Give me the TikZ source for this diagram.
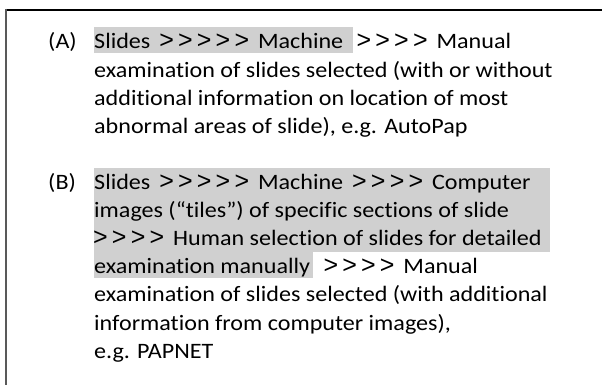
\documentclass[tikz,border=0pt]{standalone}
\usepackage{fontspec}
\usetikzlibrary{calc,backgrounds}
\setmainfont[Ligatures={TeXOff,CommonOff},FakeStretch=1.095]{Carlito}
\newfontfamily\chevfont{Liberation Sans}
% one wide chevron, and runs of four and five of them
\newcommand\chevv{{\chevfont\fontsize{25}{25}\selectfont >}}
\newcommand\ck{\kern4.2pt}
\newcommand\cfourbare{\chevv\ck\chevv\ck\chevv\ck\chevv\kern3.5pt}
\newcommand\cfour{\kern3.5pt\cfourbare}
\newcommand\cfive{\kern3.5pt\chevv\ck\chevv\ck\chevv\ck\chevv\ck\chevv\kern3.5pt}
\begin{document}
\begin{tikzpicture}[x=1pt,y=-1pt,
  txt/.style={anchor=base west,inner sep=0pt,font=\fontsize{22}{26}\selectfont},
  hl/.style={fill=hlgray,draw=none}]
\definecolor{hlgray}{RGB}{208,208,208}
\useasboundingbox (0,0) rectangle (602,385);
% frame: top and left rules only
\draw[line width=2pt,black] (602,10) -- (5.5,10);
\draw[line width=2pt,black!65] (5.5,9) -- (5.5,385);
% item A
\node[txt] (la) at (48,49) {(A)};
\node[txt] (a1h) at (94,49) {Slides \cfive{} Machine};
\node[txt,xshift=13pt] (a1r) at (a1h.base east) {\cfourbare{} Manual};
\node[txt] (a2) at (94,77.1) {examination of slides selected (with or without};
\node[txt] (a3) at (94,105.2) {additional information on location of most};
\node[txt] (a4) at (94,133.3) {abnormal areas of slide), e.g. AutoPap};
% item B
\node[txt] (lb) at (48,189.5) {(B)};
\node[txt] (b1) at (94,189.5) {Slides \cfive{} Machine \cfour{} Computer};
\node[txt] (b2) at (94,217.6) {images (“tiles”) of specific sections of slide};
\node[txt] (b3) at (93,245.7) {\cfourbare{} Human selection of slides for detailed};
\node[txt] (b4h) at (94,273.8) {examination manually};
\node[txt,xshift=13pt] (b4r) at (b4h.base east) {\cfourbare{} Manual};
\node[txt] (b5) at (94,301.9) {examination of slides selected (with additional};
\node[txt] (b6) at (94,330) {information from computer images),};
\node[txt] (b7) at (94,358.1) {e.g. PAPNET};
% highlighted passages
\begin{scope}[on background layer]
  \fill[hl] ($(a1h.base west)+(0,-22)$) rectangle ($(a1h.base east)+(10,4)$);
  \fill[hl] ($(b1.base west)+(0,-22)$) rectangle ($(b1.base west)+(456,62.7)$);
  \fill[hl] ($(b4h.base west)+(0,-22)$) rectangle ($(b4h.base east)+(3,4)$);
\end{scope}
\end{tikzpicture}
\end{document}
